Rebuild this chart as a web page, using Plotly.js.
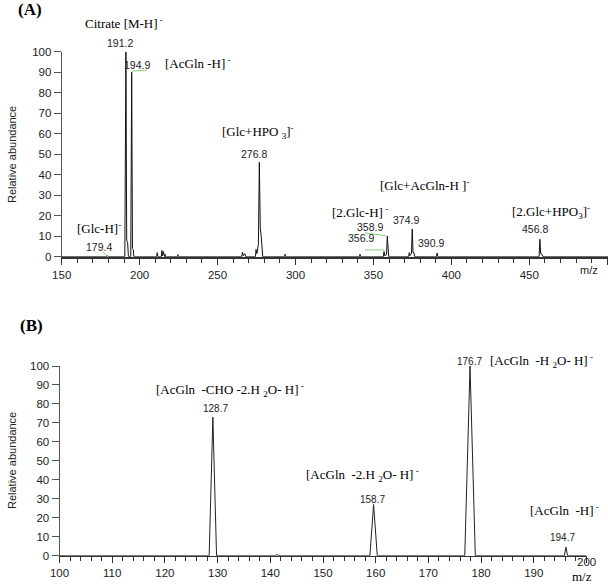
<!DOCTYPE html>
<html>
<head>
<meta charset="utf-8">
<script src="https://cdn.plot.ly/plotly-3.0.1.min.js"></script>
<style>
  body { margin: 0; background: #fff; }
  #graph { width: 608px; height: 586px; }
</style>
</head>
<body>
<div id="graph"></div>
<script>
// spectrum (A) - full scan
var topMz = [150, 178.9, 179.4, 179.9, 190.5, 191.2, 191.7, 192.3, 192.8,
  194.3, 194.9, 195.4, 195.9, 196.3, 210.9, 211.3, 211.7, 213.9, 214.3, 214.7,
  215.2, 215.6, 216.0, 216.3, 216.6, 224.3, 224.6, 224.9, 265.5, 266.0, 266.5,
  267.5, 268.0, 274.3, 274.7, 275.2, 275.7, 276.2, 276.8, 277.4, 278.0, 278.5,
  279.0, 293.0, 293.3, 293.6, 341.1, 341.4, 341.7, 356.4, 356.8, 357.2, 358.4,
  358.9, 359.4, 359.8, 372.6, 373.0, 373.4, 374.4, 374.9, 375.4, 376.0, 376.4,
  390.5, 390.9, 391.3, 456.3, 456.8, 457.3, 458.2, 458.6, 500.5]
var topAbund = [0, 0, 0.6, 0, 0, 100, 8, 7, 0,
  0, 90, 4, 3.5, 0, 0, 2, 0, 0, 3, 0.5,
  2.5, 0, 0, 1.2, 0, 0, 1, 0, 0, 2.2, 0.5,
  1.5, 0, 0, 3.5, 1.5, 4, 6, 46, 14, 10, 3,
  0, 0, 1.2, 0, 0, 1.2, 0, 0, 2.5, 0.5, 1,
  10, 1.5, 0, 0, 2, 0.5, 1.5, 13.5, 2, 2, 0,
  0, 1.8, 0, 0, 8.5, 1.5, 1.2, 0, 0]

// spectrum (B) - MS/MS
var botMz = [100, 128.4, 129.1, 129.8, 141.1, 141.3, 141.5, 158.9, 159.6, 160.3,
  176.9, 177.9, 178.9, 195.8, 196.1, 196.4, 200]
var botAbund = [0, 0, 73, 0, 0, 0.8, 0, 0, 27, 0,
  0, 100, 0, 0, 4.5, 0, 0]

// bottom axis tick labels (the last one sits a little higher, drawn apart)
var botTicks = [100, 110, 120, 130, 140, 150, 160, 170, 180, 190, 200]
var botTickText = ['100', '110', '120', '130', '140', '150', '160', '170', '180', '190', '']

// peak labels (x in m/z, y as pixel row of the label)
var topNames = ['Citrate [M-H]<sup> -</sup>', '[AcGln -H]<sup> -</sup>',
  '[Glc+HPO <sub>3</sub>]<sup>-</sup>', '[Glc-H]<sup>-</sup>',
  '[Glc+AcGln-H ]<sup>-</sup>', '[2.Glc-H]<sup> -</sup>', '[2.Glc+HPO<sub>3</sub>]<sup>-</sup>']
var topNameX = [190.0, 237.4, 275.9, 173.9, 383.0, 341.3, 463.9]
var topNameRow = [23, 63, 132, 228, 185, 211.7, 211.7]

var topMass = ['191.2', '194.9', '276.8', '179.4', '358.9', '374.9', '356.9', '390.9', '456.8']
var topMassX = [187.4, 198.3, 273.4, 173.9, 347.8, 371.2, 342.0, 387.2, 453.7]
var topMassRow = [43, 65, 154.3, 246.7, 227, 220, 238, 243, 229]

var botNames = ['[AcGln&nbsp; -CHO -2.H <sub>2</sub>O- H]<sup> -</sup>',
  '[AcGln&nbsp; -H <sub>2</sub>O- H]<sup> -</sup>',
  '[AcGln&nbsp; -2.H <sub>2</sub>O- H]<sup> -</sup>', '[AcGln&nbsp; -H]<sup> -</sup>']
var botNameX = [132.4, 191.5, 157.5, 195.9]
var botNameRow = [390, 361, 475, 510]

var botMass = ['128.7', '176.7', '158.7', '194.7']
var botMassX = [129.6, 177.8, 159.4, 195.4]
var botMassRow = [408.7, 361.7, 499, 537]

var H = 586
var serif = 'Liberation Serif, Times New Roman, serif'
var sans = 'Liberation Sans, Arial, sans-serif'

var trace_top = {
  x: topMz, y: topAbund, xaxis: 'x', yaxis: 'y',
  mode: 'lines', line: {color: '#111', width: 1}, hoverinfo: 'skip'
}
var trace_bot = {
  x: botMz, y: botAbund, xaxis: 'x2', yaxis: 'y2',
  mode: 'lines', line: {color: '#222', width: 1}, hoverinfo: 'skip'
}

var annots = []
function addLabels(txt, xs, rows, xr, font) {
  for (var i = 0; i < txt.length; i++) {
    annots.push({text: txt[i], x: xs[i], y: 1 - rows[i] / H, xref: xr, yref: 'paper',
      showarrow: false, xanchor: 'center', yanchor: 'middle', font: font})
  }
}
var axisFont = {family: sans, size: 11.5, color: '#222'}
addLabels(topNames, topNameX, topNameRow, 'x', {family: serif, size: 13, color: '#000'})
addLabels(topMass, topMassX, topMassRow, 'x', {family: sans, size: 10.5, color: '#222'})
addLabels(botNames, botNameX, botNameRow, 'x2', {family: serif, size: 13, color: '#000'})
addLabels(botMass, botMassX, botMassRow, 'x2', {family: sans, size: 10, color: '#222'})

// axis names, last bottom tick label and panel letters
addLabels(['m/z'], [488.3], [270], 'x', {family: sans, size: 11, color: '#222'})
addLabels(['200'], [200], [562], 'x2', axisFont)
addLabels(['m/z'], [199.2], [576], 'x2', {family: serif, size: 13, color: '#000'})
function paperText(txt, px, py, font, angle) {
  annots.push({text: txt, x: px / 608, y: 1 - py / H, xref: 'paper', yref: 'paper',
    xanchor: 'center', yanchor: 'middle', textangle: angle || 0, showarrow: false, font: font})
}
paperText('Relative abundance', 12, 155, {family: sans, size: 11, color: '#222'}, -90)
paperText('Relative abundance', 12, 461, {family: sans, size: 11, color: '#222'}, -90)
paperText('<b>(A)</b>', 30, 9, {family: serif, size: 17, color: '#000'})
paperText('<b>(B)</b>', 31.5, 325, {family: serif, size: 17, color: '#000'})

// little green leader lines by some labels
var green = {color: '#86d07a', width: 1}
var shapes = [
  {type: 'line', xref: 'x', yref: 'y', x0: 194.9, y0: 90.5, x1: 204.5, y1: 91, line: green},
  {type: 'line', xref: 'x', yref: 'y', x0: 176.5, y0: 2.3, x1: 179.6, y1: 0.2, line: green},
  {type: 'line', xref: 'x', yref: 'y', x0: 344.6, y0: 11.6, x1: 358.3, y1: 10.2, line: green},
  {type: 'line', xref: 'x', yref: 'y', x0: 344.6, y0: 3.3, x1: 357.2, y1: 3.3, line: green}
]

var layout = {
  width: 608, height: 586,
  margin: {l: 0, r: 0, t: 0, b: 0},
  paper_bgcolor: '#fff', plot_bgcolor: 'rgba(0,0,0,0)',
  showlegend: false,
  xaxis: {
    domain: [61.7 / 608, 1], range: [150, 500.5], anchor: 'y',
    showgrid: false, zeroline: false, showline: true, linecolor: '#333', linewidth: 2,
    ticks: 'outside', ticklen: 6, tickcolor: '#333', tick0: 150, dtick: 50,
    tickfont: axisFont,
    minor: {dtick: 10, tick0: 150, ticks: 'outside', ticklen: 4, tickcolor: '#333'}
  },
  yaxis: {
    domain: [1 - 256.7 / H, 1 - 51.7 / H], range: [0, 100], anchor: 'x',
    showgrid: false, zeroline: false, showline: true, linecolor: '#555', linewidth: 1,
    ticks: 'outside', ticklen: 7, tickcolor: '#555', dtick: 10,
    tickfont: axisFont
  },
  xaxis2: {
    domain: [59.5 / 608, 586.5 / 608], range: [100, 200], anchor: 'y2',
    showgrid: false, zeroline: false, showline: true, linecolor: '#333', linewidth: 1.5,
    ticks: 'outside', ticklen: 6, tickcolor: '#333',
    tickmode: 'array', tickvals: botTicks, ticktext: botTickText,
    tickfont: axisFont,
    minor: {dtick: 2, tick0: 100, ticks: 'outside', ticklen: 4, tickcolor: '#333'}
  },
  yaxis2: {
    domain: [1 - 555.7 / H, 1 - 366 / H], range: [0, 100], anchor: 'x2',
    showgrid: false, zeroline: false, showline: true, linecolor: '#555', linewidth: 1,
    ticks: 'outside', ticklen: 7, tickcolor: '#555', dtick: 10,
    tickfont: axisFont
  },
  annotations: annots,
  shapes: shapes
}

Plotly.newPlot('graph', [trace_top, trace_bot], layout, {displayModeBar: false, staticPlot: true})
</script>
</body>
</html>
